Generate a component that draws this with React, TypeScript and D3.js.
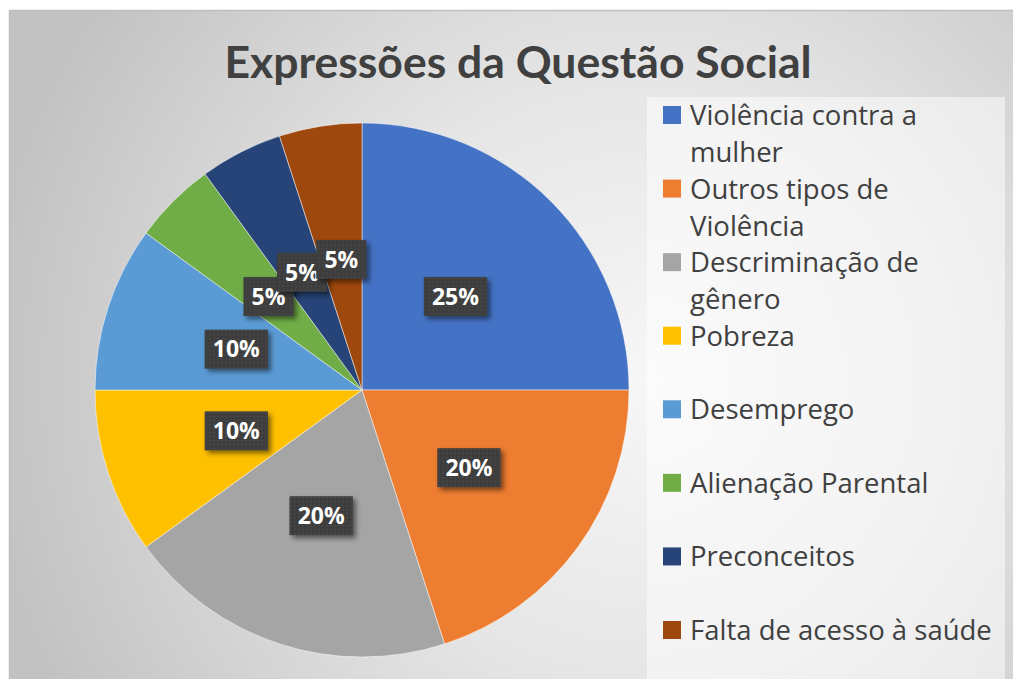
import React, { useEffect, useRef } from "react";
import * as d3 from "d3";

const categories = [
  "Violência contra a mulher",
  "Outros tipos de Violência",
  "Descriminação de gênero",
  "Pobreza",
  "Desemprego",
  "Alienação Parental",
  "Preconceitos",
  "Falta de acesso à saúde",
];
const legendLines = [
  ["Violência contra a", "mulher"],
  ["Outros tipos de", "Violência"],
  ["Descriminação de", "gênero"],
  ["Pobreza"],
  ["Desemprego"],
  ["Alienação Parental"],
  ["Preconceitos"],
  ["Falta de acesso à saúde"],
];
const values = [25, 20, 20, 10, 10, 5, 5, 5];
const colors = ["#4472C4", "#ED7D31", "#A5A5A5", "#FFC000", "#5B9BD5", "#70AD47", "#264478", "#9E480E"];
const title = "Expressões da Questão Social";

const W = 1013;
const H = 679;
const TITLE_FONT = "Lato, 'Open Sans', sans-serif";
const FONT = "'Open Sans', Lato, sans-serif";

export default function App() {
  const ref = useRef<SVGSVGElement>(null);

  useEffect(() => {
    const svg = d3.select(ref.current);
    svg.selectAll("*").remove();

    const defs = svg.append("defs");
    const grad = defs
      .append("radialGradient")
      .attr("id", "bg")
      .attr("gradientUnits", "userSpaceOnUse")
      .attr("cx", 640)
      .attr("cy", 380)
      .attr("r", 660);
    grad.append("stop").attr("offset", 0).attr("stop-color", "#f7f7f7");
    grad.append("stop").attr("offset", 0.45).attr("stop-color", "#e6e6e6");
    grad.append("stop").attr("offset", 1).attr("stop-color", "#c2c2c2");

    const pat = defs
      .append("pattern")
      .attr("id", "tex")
      .attr("patternUnits", "userSpaceOnUse")
      .attr("width", 4)
      .attr("height", 4);
    pat.append("rect").attr("width", 4).attr("height", 4).attr("fill", "#3d3d3d");
    pat.append("rect").attr("x", 1).attr("y", 1).attr("width", 1.5).attr("height", 1.5).attr("fill", "#4c4c4c");

    const filt = defs
      .append("filter")
      .attr("id", "shadow")
      .attr("x", "-30%")
      .attr("y", "-30%")
      .attr("width", "160%")
      .attr("height", "160%");
    filt
      .append("feDropShadow")
      .attr("dx", 3)
      .attr("dy", 3)
      .attr("stdDeviation", 2.5)
      .attr("flood-color", "#000")
      .attr("flood-opacity", 0.5);

    // chart area
    svg
      .append("rect")
      .attr("x", 9.5)
      .attr("y", 10.5)
      .attr("width", 1010)
      .attr("height", 690)
      .attr("fill", "url(#bg)")
      .attr("stroke", "#bfbfbf")
      .attr("stroke-width", 1.5);

    // title
    svg
      .append("text")
      .attr("x", 518)
      .attr("y", 78)
      .attr("text-anchor", "middle")
      .attr("font-family", TITLE_FONT)
      .attr("font-weight", 700)
      .attr("font-size", 44.5)
      .attr("fill", "#404040")
      .text(title);

    // pie
    const cx = 362;
    const cy = 390;
    const r = 267;
    const pie = d3
      .pie<number>()
      .sort(null)
      .value((d) => d);
    const arcs = pie(values);
    const arc = d3.arc<d3.PieArcDatum<number>>().innerRadius(0).outerRadius(r);
    const labelArc = d3
      .arc<d3.PieArcDatum<number>>()
      .innerRadius(r * 0.495)
      .outerRadius(r * 0.495);

    const g = svg.append("g").attr("transform", `translate(${cx},${cy})`);
    g.selectAll("path")
      .data(arcs)
      .enter()
      .append("path")
      .attr("d", arc)
      .attr("fill", (_, i) => colors[i])
      .attr("stroke", "rgba(255,255,255,0.6)")
      .attr("stroke-width", 0.8);

    const total = d3.sum(values);
    const lg = g
      .selectAll("g.lbl")
      .data(arcs)
      .enter()
      .append("g")
      .attr("class", "lbl")
      .attr("transform", (d) => {
        const [x, y] = labelArc.centroid(d);
        return `translate(${x},${y})`;
      });
    lg.each(function (d) {
      const sel = d3.select(this);
      const rect = sel.append("rect").attr("fill", "url(#tex)").attr("filter", "url(#shadow)");
      const t = sel
        .append("text")
        .attr("text-anchor", "middle")
        .attr("dy", "0.36em")
        .attr("font-family", FONT)
        .attr("font-weight", 700)
        .attr("font-size", 23)
        .attr("fill", "#ffffff")
        .text(Math.round((d.data / total) * 100) + "%");
      const bb = (t.node() as SVGTextElement).getBBox();
      const w = bb.width + 16;
      const h = 39;
      rect.attr("x", -w / 2).attr("y", -h / 2).attr("width", w).attr("height", h);
    });

    // legend
    svg
      .append("rect")
      .attr("x", 647)
      .attr("y", 97)
      .attr("width", 358)
      .attr("height", 600)
      .attr("fill", "#ffffff")
      .attr("fill-opacity", 0.5);

    const ly = d3.scalePoint<string>().domain(categories).range([125, 640]);
    const leg = svg
      .selectAll("g.leg")
      .data(categories)
      .enter()
      .append("g")
      .attr("class", "leg")
      .attr("transform", (c) => `translate(0,${ly(c)})`);
    leg
      .append("rect")
      .attr("x", 663)
      .attr("y", -19)
      .attr("width", 18)
      .attr("height", 18)
      .attr("fill", (_, i) => colors[i]);
    leg.each(function (_, i) {
      const t = d3
        .select(this)
        .append("text")
        .attr("x", 690)
        .attr("y", 0)
        .attr("font-family", FONT)
        .attr("font-size", 27.5)
        .attr("fill", "#404040");
      legendLines[i].forEach((line, j) => {
        t.append("tspan").attr("x", 690).attr("y", j * 37).text(line);
      });
    });
  }, []);

  return (
    <svg
      ref={ref}
      width={W}
      height={H}
      style={{ position: "absolute", left: 0, top: 0, background: "#ffffff" }}
    />
  );
}
